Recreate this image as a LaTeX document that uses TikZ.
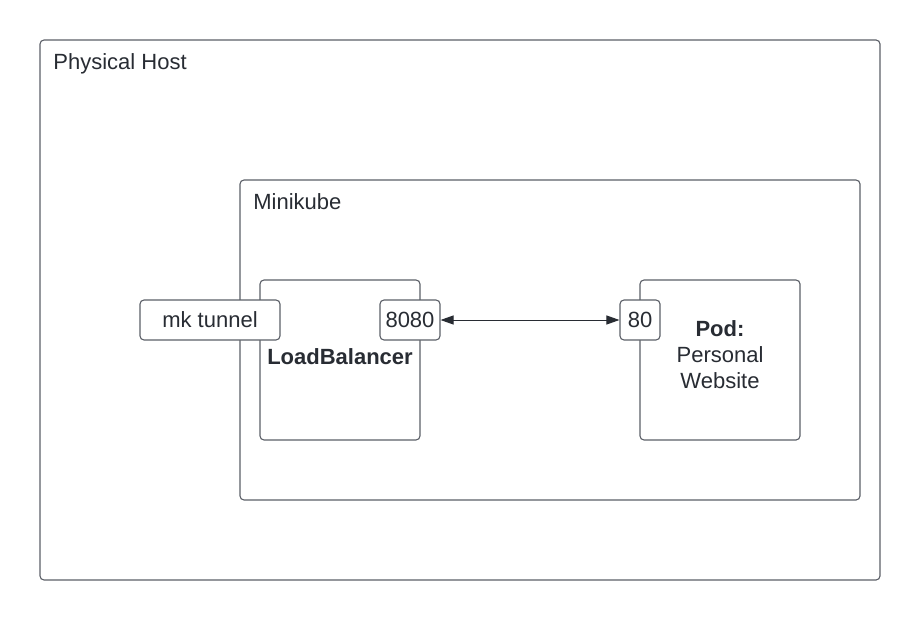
\documentclass[tikz,border=0pt]{standalone}
\usepackage{fontspec}
\setmainfont{Liberation Sans}
\usepackage{xcolor}
\usetikzlibrary{shapes.geometric, arrows.meta, positioning}

\definecolor{edge}{HTML}{5C6068}
\definecolor{ink}{HTML}{282C33}

\begin{document}
\begin{tikzpicture}[x=1pt, y=-1pt, >={Triangle[length=13pt, width=9pt]}, thick,
    box/.style={draw=edge, line width=1.1pt, rounded corners=4pt, fill=white, inner sep=0pt},
    lbl/.style={text=ink, font=\fontsize{22}{26}\selectfont, inner sep=0pt}]
    \useasboundingbox (0,0) rectangle (920,620);

    % Containers
    \node[box, minimum width=840pt, minimum height=540pt] (host) at (460,310) {};
    \node[lbl, anchor=base west] (hostlbl) at (53,70) {Physical Host};
    \node[box, minimum width=620pt, minimum height=320pt] (mkube) at (550,340) {};
    \node[lbl, anchor=base west] (mkubelbl) at (253,210) {Minikube};

    % Services
    \node[box, minimum width=160pt, minimum height=160pt] (lb) at (340,360) {};
    \node[lbl, anchor=base, font=\fontsize{22}{26}\selectfont\bfseries] (lblbl) at (340,364) {LoadBalancer};
    \node[box, minimum width=160pt, minimum height=160pt] (pod) at (720,360) {};
    \node[lbl, align=center] (podlbl) at (720,355) {\textbf{Pod:}\\Personal\\Website};

    % Ports
    \node[box, lbl, draw=edge, minimum width=140pt, minimum height=40pt] (tunnel) at (210,320) {mk tunnel};
    \node[box, lbl, draw=edge, minimum width=60pt, minimum height=40pt] (p8080) at (410,320) {8080};
    \node[box, lbl, draw=edge, minimum width=40pt, minimum height=40pt] (p80) at (640,320) {80};

    % Paths
    \draw[<->, draw=ink, line width=1pt] (p8080) -- (p80);
\end{tikzpicture}
\end{document}
